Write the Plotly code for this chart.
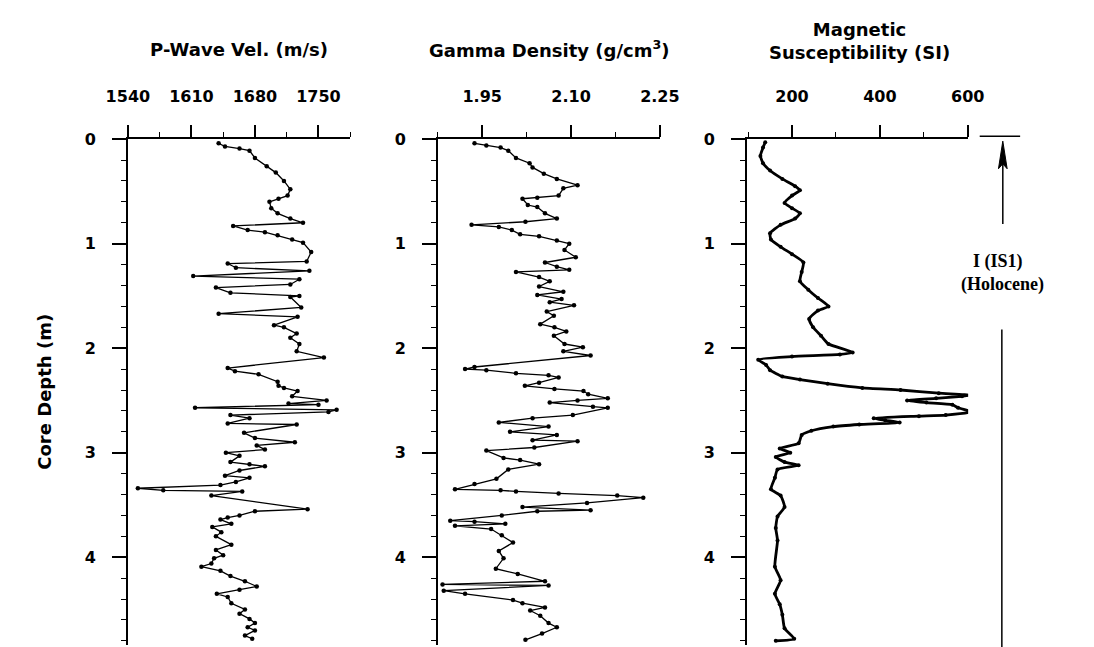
import plotly.graph_objects as go

# ---- core log data (depth in m) ----
pwave_depth = [0.04, 0.07, 0.09, 0.11, 0.18, 0.26, 0.32, 0.40, 0.48, 0.54, 0.57, 0.60, 0.66, 0.71,
               0.76, 0.80, 0.83, 0.87, 0.89, 0.92, 0.96, 0.99, 1.08, 1.17, 1.19, 1.23, 1.26, 1.31,
               1.34, 1.39, 1.42, 1.47, 1.50, 1.51, 1.61, 1.67, 1.70, 1.78, 1.80, 1.86, 1.90, 1.96,
               2.03, 2.09, 2.19, 2.22, 2.25, 2.32, 2.36, 2.38, 2.41, 2.46, 2.50, 2.53, 2.54, 2.57,
               2.59, 2.61, 2.64, 2.67, 2.72, 2.73, 2.81, 2.86, 2.90, 2.93, 2.97, 3.00, 3.03, 3.09,
               3.11, 3.13, 3.17, 3.22, 3.24, 3.28, 3.31, 3.34, 3.36, 3.37, 3.41, 3.54, 3.56, 3.60,
               3.62, 3.64, 3.68, 3.71, 3.76, 3.80, 3.88, 3.93, 3.98, 4.01, 4.06, 4.09, 4.13, 4.18,
               4.23, 4.28, 4.31, 4.35, 4.38, 4.44, 4.50, 4.54, 4.59, 4.63, 4.67, 4.70, 4.75, 4.78]
pwave_vel = [1640, 1647, 1663, 1674, 1680, 1693, 1703, 1712, 1719, 1716, 1706, 1696, 1698, 1705,
             1719, 1733, 1656, 1672, 1691, 1705, 1721, 1733, 1742, 1737, 1650, 1659, 1740, 1612,
             1729, 1719, 1637, 1653, 1729, 1719, 1731, 1640, 1727, 1701, 1712, 1726, 1719, 1729,
             1726, 1756, 1650, 1658, 1684, 1705, 1706, 1712, 1727, 1721, 1759, 1717, 1750, 1614,
             1770, 1761, 1653, 1674, 1650, 1726, 1668, 1680, 1724, 1682, 1691, 1648, 1663, 1653,
             1674, 1691, 1663, 1647, 1674, 1659, 1642, 1551, 1579, 1666, 1632, 1738, 1680, 1663,
             1650, 1642, 1654, 1633, 1643, 1637, 1654, 1637, 1645, 1635, 1632, 1621, 1642, 1653,
             1669, 1682, 1663, 1638, 1650, 1654, 1669, 1663, 1674, 1680, 1672, 1680, 1669, 1677]

gamma_depth = [0.04, 0.06, 0.08, 0.11, 0.18, 0.23, 0.27, 0.33, 0.38, 0.44, 0.47, 0.54, 0.56, 0.57,
               0.63, 0.65, 0.71, 0.76, 0.79, 0.82, 0.84, 0.87, 0.91, 0.93, 0.97, 1.00, 1.06, 1.13,
               1.18, 1.22, 1.25, 1.27, 1.32, 1.36, 1.41, 1.46, 1.49, 1.53, 1.56, 1.59, 1.65, 1.69,
               1.77, 1.80, 1.84, 1.88, 1.96, 1.99, 2.03, 2.07, 2.18, 2.20, 2.21, 2.24, 2.26, 2.28,
               2.33, 2.36, 2.39, 2.41, 2.44, 2.48, 2.50, 2.52, 2.56, 2.57, 2.64, 2.67, 2.71, 2.75,
               2.80, 2.83, 2.88, 2.89, 2.95, 2.98, 3.05, 3.07, 3.11, 3.16, 3.25, 3.30, 3.35, 3.36,
               3.37, 3.39, 3.41, 3.43, 3.48, 3.52, 3.55, 3.56, 3.60, 3.65, 3.66, 3.68, 3.70, 3.73,
               3.79, 3.86, 3.94, 4.01, 4.11, 4.16, 4.23, 4.26, 4.27, 4.32, 4.35, 4.41, 4.44, 4.48,
               4.51, 4.56, 4.63, 4.67, 4.73, 4.79]
gamma_dens = [1.937, 1.957, 1.981, 1.994, 2.007, 2.030, 2.035, 2.054, 2.076, 2.111, 2.087, 2.079,
              2.043, 2.018, 2.027, 2.043, 2.056, 2.076, 2.023, 1.932, 1.978, 2.000, 2.014, 2.046,
              2.076, 2.097, 2.089, 2.108, 2.056, 2.076, 2.097, 2.007, 2.046, 2.064, 2.046, 2.087,
              2.043, 2.084, 2.064, 2.105, 2.059, 2.071, 2.048, 2.072, 2.092, 2.071, 2.089, 2.120,
              2.087, 2.133, 1.937, 1.921, 1.957, 2.007, 2.062, 2.079, 2.046, 2.022, 2.072, 2.121,
              2.129, 2.162, 2.111, 2.064, 2.137, 2.162, 2.103, 2.035, 1.978, 2.062, 1.997, 2.076,
              2.035, 2.111, 2.038, 1.957, 1.986, 2.014, 2.046, 1.994, 1.974, 1.937, 1.904, 1.981,
              2.007, 2.079, 2.178, 2.222, 2.127, 2.018, 2.133, 2.043, 1.983, 1.896, 1.937, 1.989,
              1.904, 1.965, 1.983, 2.002, 1.978, 1.986, 1.973, 2.010, 2.056, 1.883, 2.062, 1.885,
              1.921, 2.002, 2.018, 2.056, 2.031, 2.048, 2.062, 2.076, 2.051, 2.023]

magsus_depth = [0.03, 0.08, 0.16, 0.23, 0.30, 0.38, 0.45, 0.49, 0.54, 0.61, 0.66, 0.71, 0.76, 0.82,
                0.90, 0.96, 1.03, 1.10, 1.18, 1.27, 1.36, 1.44, 1.52, 1.60, 1.64, 1.72, 1.80, 1.88,
                1.96, 2.04, 2.06, 2.08, 2.11, 2.16, 2.21, 2.27, 2.30, 2.34, 2.38, 2.40, 2.43, 2.45,
                2.46, 2.48, 2.50, 2.52, 2.54, 2.57, 2.61, 2.64, 2.65, 2.67, 2.69, 2.71, 2.73, 2.75,
                2.79, 2.83, 2.91, 2.96, 3.00, 3.04, 3.09, 3.12, 3.16, 3.24, 3.35, 3.41, 3.52, 3.61,
                3.72, 3.84, 4.09, 4.22, 4.35, 4.45, 4.55, 4.68, 4.78, 4.80]
magsus_si = [139, 134, 128, 134, 150, 178, 207, 218, 200, 183, 200, 218, 207, 174,
             150, 152, 174, 200, 226, 222, 218, 237, 259, 283, 259, 239, 248, 266,
             283, 338, 309, 200, 123, 141, 150, 178, 218, 281, 360, 447, 534, 609,
             587, 528, 462, 506, 565, 578, 609, 550, 489, 386, 412, 445, 353, 294,
             244, 222, 215, 172, 196, 163, 183, 215, 167, 161, 152, 174, 183, 167,
             163, 167, 161, 174, 161, 172, 178, 183, 205, 163]

panel_titles = ["P-Wave Vel. (m/s)", "Gamma Density (g/cm<sup>3</sup>)", "Magnetic<br>Susceptibility (SI)"]
depth_title = "Core Depth (m)"
unit_labels = ["I (IS1)", "(Holocene)"]

W, H = 1094, 647


def px(x):
    return x / W


def py(y):
    return 1 - y / H


SANS = "DejaVu Sans"
tick_font = dict(family=SANS, size=16, color="black", weight="bold")

fig = go.Figure()
fig.add_trace(go.Scatter(x=pwave_vel, y=pwave_depth, xaxis="x", yaxis="y", mode="lines+markers",
                         line=dict(color="black", width=1.3), marker=dict(size=4.5, color="black")))
fig.add_trace(go.Scatter(x=gamma_dens, y=gamma_depth, xaxis="x2", yaxis="y2", mode="lines+markers",
                         line=dict(color="black", width=1.3), marker=dict(size=4.5, color="black")))
fig.add_trace(go.Scatter(x=magsus_si, y=magsus_depth, xaxis="x3", yaxis="y3", mode="lines+markers",
                         line=dict(color="black", width=2.8, shape="spline", smoothing=0.5),
                         marker=dict(size=4, color="black")))

ydom = [py(645), py(132)]


def xax(dom, rng, tick0, dtick, mdtick, fmt, anchor):
    return dict(domain=[px(dom[0]), px(dom[1])], range=rng, side="top", anchor=anchor,
                tick0=tick0, dtick=dtick, tickformat=fmt, ticks="outside", ticklen=12,
                tickwidth=1.5, tickcolor="black", ticklabelstandoff=17,
                minor=dict(dtick=mdtick, ticks="outside", ticklen=5, tickwidth=1.2,
                           tickcolor="black", showgrid=False),
                showline=True, linewidth=1.5, linecolor="black", showgrid=False,
                zeroline=False, tickfont=tick_font)


def yax(anchor):
    return dict(domain=ydom, range=[4.84, 0], anchor=anchor, tick0=0, dtick=1,
                ticks="outside", ticklen=14, tickwidth=1.5, tickcolor="black",
                ticklabelstandoff=13,
                minor=dict(dtick=0.2, ticks="outside", ticklen=5, tickwidth=1.2,
                           tickcolor="black", showgrid=False),
                showline=True, linewidth=1.5, linecolor="black", showgrid=False,
                zeroline=False, tickfont=tick_font)


fig.update_layout(
    width=W, height=H, margin=dict(l=0, r=0, t=0, b=0),
    paper_bgcolor="white", plot_bgcolor="white", showlegend=False,
    xaxis=xax((110, 341), [1540, 1785], 1540, 70, 35, "d", "y"),
    xaxis2=xax((432, 663), [1.875, 2.2505], 1.95, 0.15, 0.075, ".2f", "y2"),
    xaxis3=xax((753, 983), [97, 601], 200, 200, 100, "d", "y3"),
    yaxis=yax("x"), yaxis2=yax("x2"), yaxis3=yax("x3"),
)

title_font = dict(family=SANS, size=18, color="black", weight="bold")
for cx, cy, txt in [(225, 41, panel_titles[0]), (548, 41, panel_titles[1]), (870, 32, panel_titles[2])]:
    fig.add_annotation(x=px(cx), y=py(cy), xref="paper", yref="paper", text=txt,
                       showarrow=False, font=title_font, xanchor="center", yanchor="middle")

fig.add_annotation(x=px(23), y=py(388), xref="paper", yref="paper", text=depth_title,
                   textangle=-90, showarrow=False, font=title_font,
                   xanchor="center", yanchor="middle")

# stratigraphic unit marker on the right
serif = dict(family="Liberation Serif", size=18, color="black", weight="bold")
fig.add_annotation(x=px(1014), y=py(256), xref="paper", yref="paper", text=unit_labels[0],
                   showarrow=False, font=serif, xanchor="center", yanchor="middle")
fig.add_annotation(x=px(1019), y=py(279), xref="paper", yref="paper", text=unit_labels[1],
                   showarrow=False, font=serif, xanchor="center", yanchor="middle")

line_style = dict(color="black", width=1.5)
# top bar, upward arrow (shaft + head) and lower bracket line
fig.add_shape(type="line", xref="paper", yref="paper", x0=px(995), x1=px(1037),
              y0=py(129), y1=py(129), line=line_style)
fig.add_shape(type="line", xref="paper", yref="paper", x0=px(1019), x1=px(1019),
              y0=py(155), y1=py(218), line=line_style)
head = (f"M {px(1019)} {py(134)} L {px(1014.5)} {py(162)} "
        f"L {px(1019)} {py(157)} L {px(1023.5)} {py(162)} Z")
fig.add_shape(type="path", xref="paper", yref="paper", path=head,
              fillcolor="black", line=dict(color="black", width=1))
fig.add_shape(type="line", xref="paper", yref="paper", x0=px(1018), x1=px(1018),
              y0=py(325), y1=py(647), line=line_style)

fig.write_html("out.html")
